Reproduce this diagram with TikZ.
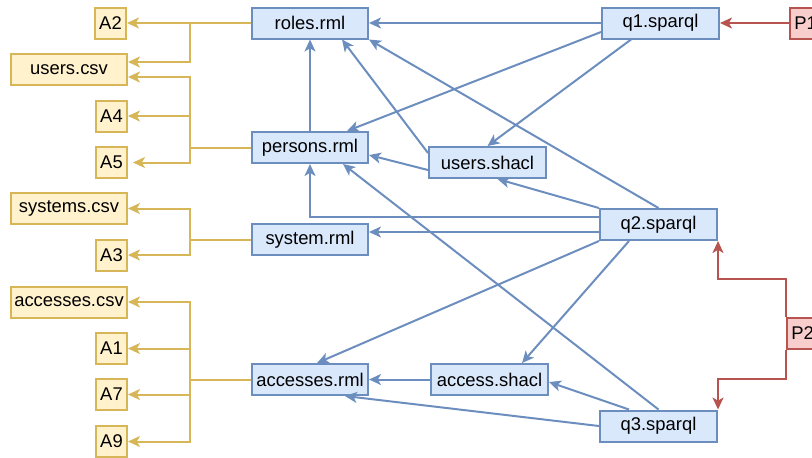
\documentclass[tikz,border=0pt]{standalone}
\usepackage{fontspec}
\setmainfont{Liberation Sans}
\usetikzlibrary{arrows.meta,positioning}

\definecolor{srcfill}{HTML}{FFF2CC}
\definecolor{srcdraw}{HTML}{D6B656}
\definecolor{mapfill}{HTML}{DAE8FC}
\definecolor{mapdraw}{HTML}{6C8EBF}
\definecolor{probfill}{HTML}{F8CECC}
\definecolor{probdraw}{HTML}{B85450}

\begin{document}
\begin{tikzpicture}[
    x=0.5pt, y=-0.5pt,
    every node/.style={font=\fontsize{9.2}{11}\selectfont, inner sep=1pt},
    src/.style={rectangle, draw=srcdraw, fill=srcfill, line width=1pt, minimum height=15.5pt},
    map/.style={rectangle, draw=mapdraw, fill=mapfill, line width=1pt, minimum height=15.5pt, minimum width=58pt},
    prob/.style={rectangle, draw=probdraw, fill=probfill, line width=1pt, minimum height=15.5pt, minimum width=15.5pt},
    short/.style={minimum width=15.5pt},
    long/.style={minimum width=58pt},
    tip/.style={-{Stealth[length=6pt, width=5.5pt, inset=1.6pt]}},
    srcarr/.style={tip, draw=srcdraw, line width=1pt},
    maparr/.style={tip, draw=mapdraw, line width=1pt},
    probarr/.style={tip, draw=probdraw, line width=1pt}
    ]
    \useasboundingbox (0,0) rectangle (812,457);
    \clip (0,0) rectangle (812,457);
    % Mappings
    \node[map] (roles) at (310,23) {roles.rml};
    \node[map] (persons) at (310,147.5) {persons.rml};
    \node[map] (system) at (310,239.5) {system.rml};
    \node[map] (accesses) at (310,379.5) {accesses.rml};
    % Shapes
    \node[map, minimum width=58.5pt] (usershacl) at (487.5,162.5) {users.shacl};
    \node[map, minimum width=58.5pt, right=30.5pt of accesses] (accshacl) {access.shacl};
    % Queries
    \node[map, minimum width=58.5pt, right=116pt of roles] (q1) {q1.sparql};
    \node[map, minimum width=58.5pt] (q2) at (658.5,224.5) {q2.sparql};
    \node[map, minimum width=58.5pt] (q3) at (658.5,426) {q3.sparql};
    % Problems
    \node[prob, right=34.5pt of q1] (p1) {P1};
    \node[prob, anchor=west] (p2) at (786,333) {P2};
    % Sources
    \node[src, short, left=62pt of roles] (a2) {A2};
    \node[src, long, anchor=east] (userscsv) at (128,69.5) {users.csv};
    \node[src, short, anchor=east] (a4) at (128,116) {A4};
    \node[src, short, anchor=east] (a5) at (128,162.5) {A5};
    \node[src, long, anchor=east] (systemscsv) at (128,208.5) {systems.csv};
    \node[src, short, anchor=east] (a3) at (128,255) {A3};
    \node[src, long, anchor=east] (accessescsv) at (128,302) {accesses.csv};
    \node[src, short, anchor=east] (a1) at (128,348.5) {A1};
    \node[src, short, anchor=east] (a7) at (128,394.5) {A7};
    \node[src, short, anchor=east] (a9) at (128,441.5) {A9};
    % Splits between mappings and sources
    \coordinate (jr) at (190,23);
    \coordinate (jp) at (190,147.5);
    \coordinate (js) at (190,239.5);
    \coordinate (ja) at (190,379.5);
    \draw[srcarr] (roles) -- (a2);
    \draw[srcarr] (roles.west) -- (jr) |- ([yshift=3.75pt]userscsv.east);
    \draw[srcarr] (persons.west) -- (jp) |- ([yshift=-3.75pt]userscsv.east);
    \draw[srcarr] (jp) |- (a4);
    \draw[srcarr, shorten >=2.5pt] (jp) |- (a5);
    \draw[srcarr] (system.west) -- (js) |- (systemscsv);
    \draw[srcarr] (js) |- (a3);
    \draw[srcarr] (accesses.west) -- (ja) |- (accessescsv);
    \draw[srcarr] (ja) |- (a1);
    \draw[srcarr] (ja) |- (a7);
    \draw[srcarr] (ja) |- (a9);
    % q1
    \draw[maparr] (q1) -- (roles);
    \draw[maparr] ([yshift=-4.5pt]q1.west) -- ([xshift=18.5pt]persons.north);
    \draw[maparr] ([xshift=-14.75pt]q1.south) -- (usershacl.north);
    % q2
    \draw[maparr] (q2.north) -- (roles.south east);
    \draw[maparr] (q2.north west) -- ([xshift=5pt]usershacl.south);
    \draw[maparr] ([yshift=3.75pt]q2.west) -| (persons.south);
    \draw[maparr] ([yshift=-3.75pt]q2.west) -- ([yshift=3.75pt]system.east);
    \draw[maparr] (q2.south west) -- ([xshift=3.5pt]accesses.north);
    \draw[maparr] ([xshift=-14.75pt]q2.south) -- ([xshift=16.25pt]accshacl.north);
    % q3
    \draw[maparr] (q3.north) -- ([xshift=16.5pt]persons.south);
    \draw[maparr] ([xshift=-14.75pt]q3.north) -- ([yshift=-1.25pt]accshacl.east);
    \draw[maparr] (q3.west) -- ([xshift=17.5pt]accesses.south);
    % shapes and mappings
    \draw[maparr] ([yshift=4.75pt]usershacl.west) -- ([xshift=16pt]roles.south);
    \draw[maparr] ([yshift=-3.75pt]usershacl.west) -- ([yshift=-3.75pt]persons.east);
    \draw[maparr] (persons) -- (roles);
    \draw[maparr] (accshacl) -- (accesses);
    % problems
    \draw[probarr] (p1) -- (q1);
    \draw[probarr] (p2.north west) |- ([yshift=-19pt]q2.south east) -- (q2.south east);
    \draw[probarr] (p2.south west) |- ([yshift=15.5pt]q3.north east) -- (q3.north east);
\end{tikzpicture}
\end{document}
